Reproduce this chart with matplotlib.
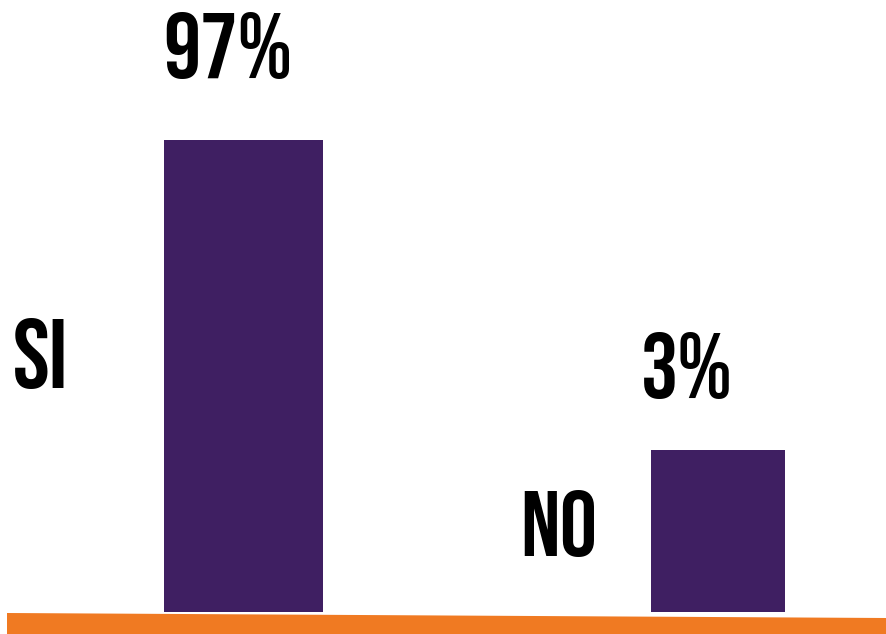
import matplotlib.pyplot as plt
from matplotlib.patches import Polygon

# data
categories = ['SI', 'NO']
percent_labels = ['97%', '3%']
# drawn heights are not proportional in the original infographic
bar_heights = [97, 33.3]
bar_widths = [0.335, 0.282]

purple = '#3f1f62'
orange = '#f07a22'
family = ['Bebas Neue', 'DejaVu Sans']

W, H = 886, 634
fig = plt.figure(figsize=(W / 100, H / 100), dpi=100)
fig.patch.set_facecolor('white')

# axes placed so the baseline sits on the orange band
ax = fig.add_axes([0, (H - 612) / H, 1, 486.6 / H])
ax.bar(range(len(categories)), bar_heights, width=bar_widths,
       color=purple, align='center', zorder=2)
ax.set_xlim(-0.513, 1.354)
ax.set_ylim(0, 100)
ax.axis('off')

# percentage labels above the bars (left edge, baseline in pixels)
pct_pos = [(163, 78), (641, 398)]
for lab, (x, y) in zip(percent_labels, pct_pos):
    fig.text(x / W, 1 - y / H, lab, ha='left', va='baseline', fontsize=67,
             family=family, color='black')

# category names to the left of the bars
cat_pos = [(13, 388, 71), (520, 556, 67)]
for lab, (x, y, s) in zip(categories, cat_pos):
    fig.text(x / W, 1 - y / H, lab, ha='left', va='baseline', fontsize=s,
             family=family, color='black')

# orange floor band
band = Polygon([(7 / W, 1 - 613 / H), (1, 1 - 618 / H), (1, 0), (7 / W, 0)],
               closed=True, transform=fig.transFigure, facecolor=orange,
               edgecolor='none', zorder=5)
fig.patches.append(band)

fig.savefig('out.png', dpi=100)
